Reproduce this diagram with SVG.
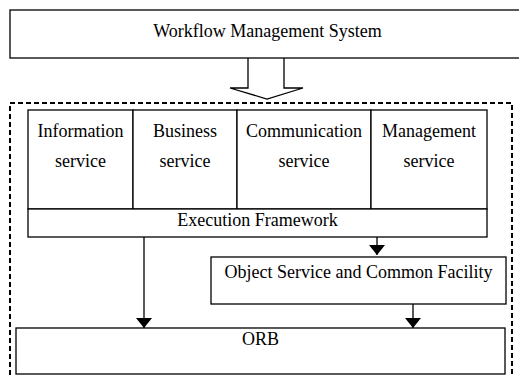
<svg xmlns="http://www.w3.org/2000/svg" width="519" height="376" viewBox="0 0 519 376">
  <style>
    .box { fill: #fff; stroke: #000; stroke-width: 1.3; }
    .line { fill: none; stroke: #000; stroke-width: 1.3; }
    .dash { fill: none; stroke: #000; stroke-width: 2; stroke-dasharray: 5 3; }
    text { font-family: "Liberation Serif", "Times New Roman", serif; font-size: 18px; fill: #000; text-anchor: middle; }
  </style>
  <defs>
    <!-- solid arrowhead, drawn pointing along +x so orient="auto" turns it with the line -->
    <marker id="head" markerWidth="10" markerHeight="16" refX="10" refY="8" markerUnits="userSpaceOnUse" orient="auto" viewBox="0 0 10 16">
      <path d="M0,0 L10,8 L0,16 Z" fill="#000"/>
    </marker>
  </defs>
  <rect width="519" height="376" fill="#fff"/>

  <g id="workflow-management-system">
    <rect class="box" x="10" y="10" width="530" height="48"/>
    <text x="267.5" y="37">Workflow Management System</text>
  </g>

  <g id="platform">
    <rect class="dash" x="10" y="103" width="502" height="290"/>
  </g>

  <g id="information-service">
    <rect class="box" x="28" y="110" width="105" height="99"/>
    <text x="80.5" y="137">Information</text>
    <text x="80.5" y="167">service</text>
  </g>
  <g id="business-service">
    <rect class="box" x="133" y="110" width="104" height="99"/>
    <text x="185" y="137">Business</text>
    <text x="185" y="167">service</text>
  </g>
  <g id="communication-service">
    <rect class="box" x="237" y="110" width="134" height="99"/>
    <text x="304" y="137">Communication</text>
    <text x="304" y="167">service</text>
  </g>
  <g id="management-service">
    <rect class="box" x="371" y="110" width="116" height="99"/>
    <text x="429" y="137">Management</text>
    <text x="429" y="167">service</text>
  </g>
  <g id="execution-framework">
    <rect class="box" x="28" y="209" width="459" height="28"/>
    <text x="257.5" y="226">Execution Framework</text>
  </g>

  <g id="object-service">
    <rect class="box" x="211" y="257" width="295" height="47"/>
    <text x="358.5" y="278">Object Service and Common Facility</text>
  </g>

  <g id="orb">
    <rect class="box" x="16" y="328" width="489" height="46"/>
    <text x="260.5" y="345">ORB</text>
  </g>

  <g id="connectors">
    <!-- hollow block arrow from the workflow system into the platform -->
    <path class="line" d="M248,58 L248,88 L230,88 L267,99 L303,88 L284,88 L284,58" fill="#fff"/>
    <line class="line" x1="144" y1="237" x2="144" y2="328" marker-end="url(#head)"/>
    <line class="line" x1="377" y1="237" x2="377" y2="255" marker-end="url(#head)"/>
    <line class="line" x1="413" y1="304" x2="413" y2="328" marker-end="url(#head)"/>
  </g>
</svg>
